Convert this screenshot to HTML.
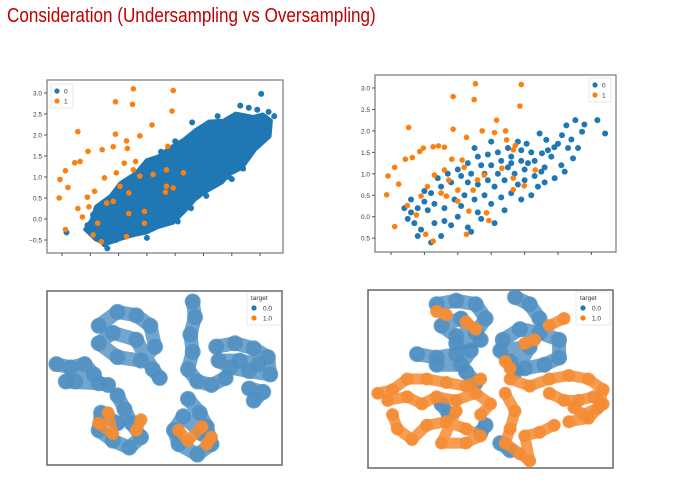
<!DOCTYPE html>
<html><head><meta charset="utf-8">
<style>
html,body{margin:0;padding:0;background:#fff;width:686px;height:486px;overflow:hidden}
#title{position:absolute;left:7px;top:5px;font-family:"Liberation Sans Narrow","Liberation Sans",sans-serif;font-size:20px;color:#c00000;white-space:nowrap;transform:scaleX(0.855);transform-origin:0 0}
svg{position:absolute;left:0;top:0}
text{font-family:"Liberation Sans",sans-serif}
</style></head><body>
<div id="title">Consideration (Undersampling vs Oversampling)</div>
<svg id="s" width="686" height="486"></svg>
<script>
// ---- top-left (undersampling original) ----
const tlYTicks = [3.0, 2.5, 2.0, 1.5, 1.0, 0.5, 0.0, -0.5];
const tlYLabels = ["3.0","2.5","2.0","1.5","1.0","0.5","0.0","\u22120.5"];
const tlXTicks = [0,1,2,3,4,5,6,7];
const tlOrange = [[2.52,3.1],[3.93,3.06],[1.89,2.79],[2.49,2.73],[3.89,2.57],[0.56,2.08],[1.89,2.02],[3.18,2.24],[2.75,1.98],[2.28,1.86],[0.92,1.61],[1.42,1.65],[1.81,1.72],[2.31,1.68],[0.64,1.37],[0.45,1.34],[0.12,1.15],[-0.07,0.94],[0.21,0.75],[-0.1,0.5],[0.12,-0.25],[0.56,0.25],[0.72,0.05],[0.9,0.52],[1.15,0.66],[1.5,0.98],[1.92,1.1],[2.2,1.33],[2.6,1.37],[2.05,0.78],[2.36,0.62],[1.81,0.42],[2.36,0.13],[2.91,0.18],[2.91,-0.1],[2.75,1.02],[3.22,1.06],[3.69,1.17],[3.74,1.73],[4.29,1.1],[3.69,0.78],[3.93,0.74],[3.66,0.64],[1.1,-0.38],[1.39,-0.54],[2.28,-0.42],[1.26,-0.1],[1.58,0.38],[2.52,1.17],[0.95,0.29]];
const tlBlueHull = [[1.03,-0.02],[1.19,0.3],[1.7,0.55],[2.05,0.86],[2.6,1.1],[2.99,1.41],[3.4,1.5],[3.78,1.69],[4.3,1.9],[4.72,2.13],[5.19,2.33],[5.7,2.35],[6.13,2.52],[6.76,2.44],[7.1,2.5],[7.4,2.35],[7.35,1.96],[6.84,1.65],[6.37,1.21],[5.9,1.05],[5.66,0.86],[5.03,0.62],[4.7,0.45],[4.4,0.22],[3.93,-0.1],[3.4,-0.2],[2.99,-0.33],[2.5,-0.4],[2.05,-0.49],[1.58,-0.6],[1.19,-0.5],[0.8,-0.25]];
const tlBlue = [[7.04,2.98],[0.16,-0.32],[1.42,0.2],[4.09,-0.06],[4.56,0.26],[7.3,2.55],[7.5,2.45],[6.3,2.7],[6.4,1.2],[5.9,1.0],[1.5,-0.6],[1.9,-0.5],[0.9,-0.15],[1.1,0.1],[3.5,1.6],[4.0,1.85],[5.1,0.55],[6.9,2.6],[4.6,2.3],[5.5,2.45],[6.6,2.65],[6.0,0.95],[3.0,-0.45],[1.6,-0.7]];
// ---- top-right ----
const trYTicks = [3.0, 2.5, 2.0, 1.5, 1.0, 0.5, 0.0, -0.5];
const trYLabels = ["3.0","2.5","2.0","1.5","1.0","0.5","0.0","0.5"];
const trXTicks = [0,1,2,3,4,5,6];
const trOrange = [[2.53,3.1],[3.9,3.08],[1.86,2.8],[2.49,2.73],[3.86,2.58],[0.53,2.08],[1.86,2.04],[3.16,2.25],[2.73,2.0],[3.1,1.96],[3.43,2.0],[2.26,1.85],[3.46,1.79],[0.86,1.52],[0.97,1.6],[1.26,1.63],[1.42,1.65],[1.6,1.62],[0.43,1.34],[0.64,1.38],[0.11,1.15],[-0.09,0.95],[0.23,0.76],[-0.13,0.51],[0.11,-0.23],[0.49,0.26],[0.76,0.04],[0.9,0.48],[1.09,0.7],[1.3,0.97],[1.6,1.09],[1.82,1.34],[2.13,1.32],[2.19,1.15],[1.73,0.85],[2.0,0.62],[1.5,0.55],[2.0,0.36],[2.33,0.13],[2.26,-0.41],[2.86,0.09],[2.93,-0.09],[2.79,0.97],[3.32,1.13],[3.66,0.9],[3.99,0.72],[3.66,0.63],[4.32,1.09],[3.72,1.66],[3.66,1.56],[1.04,-0.41],[1.26,-0.57],[1.66,0.48],[2.46,0.62],[2.59,0.86]];
const trBlue = [[5.52,2.25],[5.79,2.15],[6.18,2.25],[6.41,1.94],[5.72,1.98],[5.25,2.13],[4.45,1.94],[5.12,1.9],[5.45,1.36],[4.89,1.62],[4.65,1.79],[4.06,1.7],[4.52,1.48],[3.8,1.75],[3.5,1.6],[3.2,1.5],[2.9,1.45],[2.6,1.4],[2.3,1.25],[4.2,1.5],[4.8,1.4],[5.0,1.7],[5.3,1.6],[5.1,1.2],[4.6,1.15],[4.3,1.3],[3.9,1.3],[3.6,1.4],[3.3,1.3],[3.0,1.2],[2.7,1.2],[2.4,1.0],[2.1,0.95],[1.8,0.8],[1.5,0.7],[1.2,0.55],[1.0,0.35],[0.8,0.2],[0.6,0.1],[0.5,-0.05],[0.7,-0.15],[0.9,-0.3],[1.2,-0.6],[1.0,0.6],[1.3,0.3],[1.6,0.2],[1.9,0.4],[2.2,0.5],[2.5,0.4],[2.8,0.5],[3.1,0.7],[3.4,0.85],[3.7,1.0],[4.0,1.1],[4.3,0.95],[4.6,0.8],[4.9,0.9],[5.2,1.05],[2.0,0.0],[1.8,-0.2],[2.3,-0.25],[1.5,-0.45],[2.7,-0.05],[3.0,0.3],[3.3,0.45],[3.6,0.55],[3.9,0.4],[4.2,0.5],[4.4,0.7],[2.9,0.85],[2.6,0.75],[2.3,0.8],[3.2,1.0],[3.5,1.15],[3.9,1.55],[4.1,1.25],[4.7,1.55],[5.4,1.8],[5.6,1.6],[3.0,1.75],[2.5,1.6],[2.0,1.1],[1.7,1.0],[1.4,0.9],[1.1,0.15],[0.6,0.4],[0.4,0.2],[0.8,-0.45],[2.6,0.1],[3.4,0.15],[3.8,0.75],[4.5,1.05],[2.1,0.25],[1.3,-0.15],[3.1,-0.15],[2.4,-0.35],[1.6,-0.1],[4.0,0.85],[3.6,1.25],[2.8,1.0]];
// ---- bottom t-SNE (box fraction units 0..100) ----
const blBlue = [[[22,20],[30,12],[38,14],[44,20],[46,32],[40,40],[30,38],[22,30],[28,24],[38,28],[45,45],[48,50]],[[4,42],[10,44],[16,42],[20,48],[12,52],[8,52],[22,53],[26,54]],[[62,6],[63,15],[61,25],[62,35],[60,45],[64,52],[70,54],[76,50]],[[72,32],[80,30],[88,33],[94,38],[95,48],[86,46],[78,44],[73,40],[82,40],[90,42]],[[86,56],[92,58],[88,63]],[[30,60],[33,68],[36,76],[40,84],[35,90],[28,86],[22,80],[23,70],[30,76]],[[60,62],[65,70],[68,78],[70,88],[64,94],[56,88],[54,80],[58,72],[66,82]]];
const blOrange = [[[22,76],[28,82],[26,70]],[[38,80],[40,74]],[[56,80],[60,86],[66,78]],[[68,88],[70,84]]];
const brBlue = [[[28,8],[36,6],[44,8],[48,16],[44,24],[36,26],[30,20],[38,16],[46,28],[36,30]],[[20,36],[28,38],[36,36],[42,34],[38,42],[28,42]],[[60,4],[66,8],[70,16]],[[55,28],[62,22],[70,24],[78,28],[78,38],[72,42],[64,44],[58,40],[54,34],[66,32],[60,46]],[[40,46],[44,52]],[[30,64],[33,70]],[[54,86],[58,90]],[[48,76],[46,80]]];
const brOrange = [[[4,58],[10,56],[16,50],[24,50],[32,52],[40,54],[46,50]],[[8,62],[16,60],[22,64],[28,60],[36,62],[44,58],[50,64],[46,70]],[[10,70],[12,78],[18,84],[24,76],[32,74],[40,78],[46,82],[40,86],[30,86],[36,68]],[[58,50],[66,54],[74,50],[82,48],[90,50],[96,56],[94,66],[88,70],[84,66]],[[56,58],[60,68],[58,78],[56,86],[62,92],[66,96],[64,82],[70,80],[76,76]],[[74,58],[80,62],[86,62],[92,60],[96,64],[90,72],[82,74]],[[74,20],[80,16]],[[28,12],[32,14]],[[40,18],[44,22]],[[64,30],[68,28]],[[56,40],[58,44]]];
const legendTop = ["0","1"];
const legendBottom = ["0.0","1.0"];

const NS="http://www.w3.org/2000/svg", svg=document.getElementById('s');
const BLUE="#1f77b4", ORANGE="#ff7f0e";
function el(t,a,p){const e=document.createElementNS(NS,t);for(const k in a)e.setAttribute(k,a[k]);(p||svg).appendChild(e);return e;}

function scatter(cfg){
  const g=el('g',{});
  
  
  const xs=v=>cfg.x0+v*cfg.dx, ys=v=>cfg.y0+(3-v)*cfg.dy;
  const fr=el('rect',{x:cfg.L,y:cfg.T,width:cfg.R-cfg.L,height:cfg.B-cfg.T,fill:'#fff',stroke:'#777','stroke-width':1.2},g);
  
  
  cfg.yt.forEach((v,i)=>{
    el('line',{x1:cfg.L-3,x2:cfg.L,y1:ys(v),y2:ys(v),stroke:'#555'},g);
    const t=el('text',{x:cfg.L-5,y:ys(v)+2.5,'font-size':6.5,'text-anchor':'end',fill:'#333'},g);
    t.textContent=cfg.yl[i];
    
    
  });
  cfg.xt.forEach(v=>{el('line',{x1:xs(v),x2:xs(v),y1:cfg.B,y2:cfg.B+3,stroke:'#555'},g);});
  if(cfg.hull){
    const h=el('polygon',{points:cfg.hull.map(p=>xs(p[0])+','+ys(p[1])).join(' '),fill:BLUE,stroke:BLUE,'stroke-width':3,'stroke-linejoin':'round'},g);
    
    
  }
  cfg.blue.forEach(p=>{
    const c=el('circle',{cx:xs(p[0]),cy:ys(p[1]),r:3,fill:BLUE},g);
    
    
  });
  cfg.orange.forEach(p=>{
    const c=el('circle',{cx:xs(p[0]),cy:ys(p[1]),r:2.8,fill:ORANGE},g);
    
    
  });
  const lg=el('g',{},g);
  
  
  el('rect',{x:cfg.lx,y:cfg.ly,width:22,height:24,fill:'#fff',stroke:'#ddd','stroke-width':0.7},lg);
  legendTop.forEach((s,i)=>{
    el('circle',{cx:cfg.lx+6,cy:cfg.ly+7+i*10,r:2.6,fill:i?ORANGE:BLUE},lg);
    const t=el('text',{x:cfg.lx+13,y:cfg.ly+9.5+i*10,'font-size':6.5,fill:'#333'},lg);
    t.textContent=s;
    
    
  });
}
scatter({name:'scatter-original',L:47,R:283,T:80,B:253,x0:62,dx:28.3,y0:93,dy:42,yt:tlYTicks,yl:tlYLabels,xt:tlXTicks,hull:tlBlueHull,blue:tlBlue,orange:tlOrange,lx:51,ly:84});
scatter({name:'scatter-resampled',L:375,R:616,T:75,B:252,x0:391,dx:33.4,y0:88,dy:42.9,yt:trYTicks,yl:trYLabels,xt:trXTicks,blue:trBlue,orange:trOrange,lx:589,ly:78});

function tsne(name,L,T,W,H,blue,orange,lx,ly){
  const g=el('g',{});
  
  
  const fr=el('rect',{x:L,y:T,width:W,height:H,fill:'#fff',stroke:'#666','stroke-width':1.5},g);
  
  
  const xs=v=>L+v/100*W, ys=v=>T+v/100*H;
  function draw(set,col,cls,op,w){
    set.forEach(pl=>{
      const p=el('polyline',{points:pl.map(q=>xs(q[0])+','+ys(q[1])).join(' '),fill:'none',stroke:col,'stroke-width':w,'stroke-linecap':'round','stroke-linejoin':'round',opacity:op},g);
      
      
      pl.forEach(q=>{el('circle',{cx:xs(q[0]),cy:ys(q[1]),r:w/2+1,fill:col,opacity:op},g);});
    });
  }
  draw(blue,'#4d8fc2','target-0-cluster',0.8,14);
  draw(orange,'#f48c34','target-1-cluster',0.85,11);
  const lg=el('g',{},g);
  
  
  el('rect',{x:lx,y:ly,width:34,height:33,fill:'#fff',opacity:0.85,stroke:'#ddd','stroke-width':0.7},lg);
  const tt=el('text',{x:lx+4,y:ly+8,'font-size':6.5,fill:'#333'},lg);
  tt.textContent='target';
  
  
  legendBottom.forEach((s,i)=>{
    el('circle',{cx:lx+7,cy:ly+16+i*10,r:2.6,fill:i?ORANGE:BLUE},lg);
    const t=el('text',{x:lx+16,y:ly+18.5+i*10,'font-size':6.5,fill:'#333'},lg);
    t.textContent=s;
    
    
  });
}
tsne('tsne-original',47,291,235,174,blBlue,blOrange,247,292);
tsne('tsne-resampled',368,290,245,178,brBlue,brOrange,576,292);
</script>
</body></html>
